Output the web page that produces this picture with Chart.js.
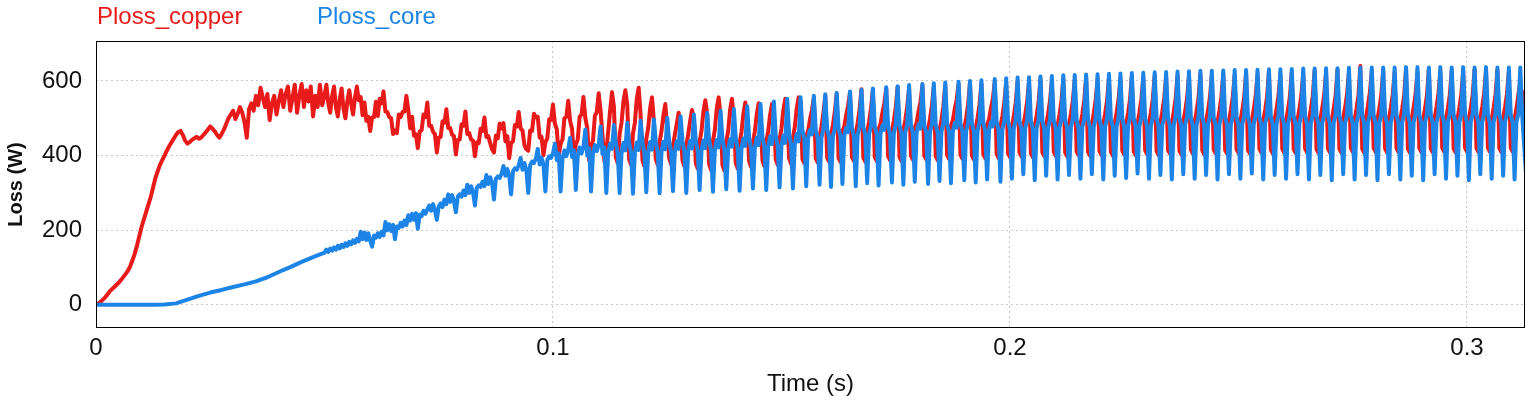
<!DOCTYPE html>
<html>
<head>
<meta charset="utf-8">
<script src="https://cdn.jsdelivr.net/npm/chart.js@4.4.1/dist/chart.umd.min.js"></script>
<style>
  html, body { margin: 0; padding: 0; background: #fff; }
  .can-con { width: 1540px; height: 405px; position: relative; }
</style>
</head>
<body>
<div class="can-con"><canvas id="lossChart" width="1540" height="405"></canvas></div>
<script>
// tick labels
const timeTicks = [0, 0.1, 0.2, 0.3];
const lossTicks = [0, 200, 400, 600];
const seriesNames = ["Ploss_copper", "Ploss_core"];

// sampling of the traces (seconds)
const copperEarlyStep = 0.0005; // copperEarly: t = 0 .. 0.0495
const coreEarlyStep = 0.0025;   // coreEarly:   t = 0 .. 0.0475
const fineStart = 0.05;         // both *Fine arrays start here
const fineStep = 1 / 2400;

const copperEarly = [
  0, 4, 8, 14, 20, 28, 36, 42, 48, 54, 60, 67, 75, 83, 92, 104, 120, 138, 160, 185,
  210, 230, 250, 270, 290, 315, 340, 358, 375, 388, 400, 413, 425, 435, 445, 455, 463, 466, 455, 440,
  432, 436, 442, 446, 450, 445, 448, 455, 462, 470, 478, 472, 465, 455, 448, 458, 470, 485, 500, 510,
  520, 498, 512, 530, 515, 490, 448, 525, 540, 520, 560, 535, 582, 555, 530, 565, 495, 540, 560, 510,
  545, 575, 530, 565, 585, 520, 555, 590, 515, 560, 592, 530, 575, 545, 585, 505, 560, 530, 590, 535
];

const coreEarly = [
  0, 0, 0, 0, 0, 0, 1, 4, 14, 24,
  33, 40, 48, 55, 63, 74, 88, 101, 115, 128
];

const copperFine = [
  // 0.050 - 0.058
  560, 590, 540, 515, 560, 585, 530, 505, 550, 580, 525, 500, 545, 575, 540, 510, 555, 585, 548,
  // 0.058 - 0.101
  557, 508, 542, 493, 504, 466, 502, 503, 544, 506, 552, 540, 572,
  518, 517, 503, 500, 458, 467, 460, 510, 503, 517, 518, 560,
  522, 473, 504, 453, 457, 420, 464, 468, 510, 503, 542,
  480, 480, 464, 457, 408, 448, 450, 492, 488, 524,
  474, 474, 456, 452, 403, 442, 443, 484, 480, 518,
  458, 460, 443, 440, 398, 436, 433, 472, 466, 502,
  450, 452, 434, 417, 408, 454, 446, 486, 473,
  487, 438, 452, 393, 434, 438, 482, 478, 517,
  473, 467, 428, 417, 413, 467, 466, 512, 503,
  504, 448, 450, 401, 436, 446, 497, 496, 537,
  486, 470, 398, 432, 443, 500, 503, 547,
  493, 472, 394, 430, 443, 504, 510, 557,
  500, 474, 388, 424, 440, 507, 516, 567,
  520, 455, 385, 410, 465, 520, 570,
  // 0.101 - 0.154
  530, 395, 380, 458, 488, 545, 575,
  537, 390, 375, 458, 488, 552, 582,
  511, 387, 372, 444, 474, 526, 556,
  493, 390, 375, 436, 466, 508, 538,
  470, 393, 378, 426, 456, 485, 515,
  477, 387, 372, 427, 457, 492, 522,
  503, 380, 365, 436, 466, 518, 548,
  511, 377, 362, 439, 469, 526, 556,
  507, 375, 360, 436, 466, 522, 552,
  497, 380, 365, 433, 463, 512, 542,
  495, 385, 370, 435, 465, 510, 540,
  493, 387, 372, 435, 465, 508, 538,
  507, 390, 375, 443, 473, 522, 552,
  511, 393, 378, 447, 477, 526, 556,
  // 0.154 - 0.199
  545, 390, 380, 452, 467, 497, 522,
  555, 392, 382, 448, 478, 513,
  560, 394, 384, 452, 482, 517,
  565, 393, 383, 464, 479, 509, 534,
  570, 396, 386, 458, 488, 523,
  578, 394, 384, 461, 491, 526,
  575, 396, 386, 470, 485, 515, 540,
  580, 398, 388, 464, 494, 529,
  584, 396, 386, 465, 495, 530,
  580, 399, 389, 474, 489, 519, 544,
  588, 400, 390, 469, 499, 534,
  585, 398, 388, 466, 496, 531,
  590, 401, 391, 480, 495, 525, 550,
  592, 402, 392, 472, 502, 537,
  595, 400, 390, 472, 502, 537,
  592, 403, 393, 482, 497, 527, 552,
  598, 404, 394, 476, 506, 541,
  // 0.199 - 0.3125
  595, 406, 396, 476, 506, 541,
  600, 408, 398, 479, 509, 544,
  598, 406, 396, 477, 507, 542,
  604, 409, 399, 481, 511, 546,
  600, 410, 400, 480, 510, 545,
  606, 408, 398, 482, 512, 547,
  603, 411, 401, 482, 512, 547,
  608, 410, 400, 484, 514, 549,
  605, 412, 402, 483, 513, 548,
  610, 410, 400, 485, 515, 550,
  606, 413, 403, 484, 514, 549,
  612, 411, 401, 486, 516, 551,
  608, 414, 404, 486, 516, 551,
  614, 412, 402, 488, 518, 553,
  610, 415, 405, 487, 517, 552,
  616, 413, 403, 489, 519, 554,
  612, 416, 406, 489, 519, 554,
  618, 414, 404, 491, 521, 556,
  614, 416, 406, 490, 520, 555,
  620, 415, 405, 492, 522, 557,
  615, 417, 407, 491, 521, 556,
  622, 415, 405, 493, 523, 558,
  617, 418, 408, 492, 522, 557,
  625, 416, 406, 495, 525, 560,
  618, 418, 408, 493, 523, 558,
  624, 417, 407, 495, 525, 560,
  620, 419, 409, 494, 524, 559,
  628, 417, 407, 497, 527, 562,
  621, 419, 409, 495, 525, 560,
  630, 418, 408, 499, 529, 564,
  622, 420, 410, 496, 526, 561,
  640, 418, 408, 504, 534, 569,
  624, 420, 410, 497, 527, 562,
  628, 419, 409, 498, 528, 563,
  622, 420, 410, 496, 526, 561,
  630, 418, 408, 499, 529, 564,
  624, 420, 410, 497, 527, 562,
  632, 419, 409, 500, 530, 565,
  625, 421, 411, 498, 528, 563,
  628, 419, 409, 498, 528, 563,
  624, 421, 411, 497, 527, 562,
  630, 420, 410, 500, 530, 565,
  626, 421, 411, 498, 528, 563,
  630, 420, 410, 500, 530, 565,
  624, 421, 411, 497, 527, 562,
  600, 520, 568, 575
];

const coreFine = [
  // 0.050 - 0.058
  140, 148, 142, 151, 145, 154, 148, 158, 151, 161, 155, 165, 158, 169, 162, 173, 166, 177, 170,
  // 0.058 - 0.101
  196, 176, 194, 174, 192, 172, 156, 186, 180, 192, 182, 196, 186,
  222, 200, 216, 198, 214, 176, 210, 206, 220, 210, 226, 214,
  240, 226, 244, 228, 246, 204, 242, 238, 252, 244, 256,
  266, 252, 270, 254, 228, 264, 272, 262, 282, 270,
  296, 276, 294, 278, 248, 290, 296, 290, 306, 294,
  322, 300, 318, 302, 266, 314, 320, 316, 330, 318,
  348, 324, 342, 326, 282, 338, 344, 340, 352,
  372, 346, 364, 346, 296, 358, 366, 362, 374,
  394, 362, 380, 362, 300, 374, 384, 380, 392,
  418, 376, 394, 376, 304, 388, 398, 394, 406,
  432, 388, 406, 304, 392, 414, 398, 416,
  448, 396, 414, 308, 398, 422, 406, 424,
  470, 400, 420, 304, 404, 428, 412, 430,
  478, 404, 422, 300, 408, 432, 418,
  // 0.101 - 0.154
  482, 434, 406, 300, 406, 434, 414,
  488, 435, 407, 298, 407, 435, 415,
  493, 436, 408, 302, 408, 436, 416,
  497, 437, 409, 299, 409, 437, 417,
  501, 438, 410, 305, 410, 438, 418,
  505, 439, 411, 300, 411, 439, 419,
  510, 440, 412, 308, 412, 440, 420,
  514, 442, 414, 303, 414, 442, 422,
  520, 444, 416, 310, 416, 444, 424,
  525, 446, 418, 306, 418, 446, 426,
  532, 448, 420, 312, 420, 448, 428,
  538, 451, 423, 308, 423, 451, 431,
  545, 454, 426, 315, 426, 454, 434,
  552, 458, 430, 312, 430, 458, 438,
  // 0.154 - 0.199
  556, 467, 445, 318, 447, 469, 457,
  560, 469, 447, 322, 449, 471,
  564, 471, 449, 316, 451, 473,
  568, 473, 451, 324, 453, 475, 463,
  572, 475, 453, 318, 455, 477,
  576, 477, 455, 326, 457, 479,
  580, 479, 457, 320, 459, 481, 469,
  583, 480, 458, 328, 460, 482,
  586, 481, 459, 322, 461, 483,
  589, 482, 460, 330, 462, 484, 472,
  592, 483, 461, 324, 463, 485,
  594, 484, 462, 332, 464, 486,
  596, 485, 463, 326, 465, 487, 475,
  598, 486, 464, 334, 466, 488,
  600, 487, 465, 328, 467, 489,
  602, 488, 466, 336, 468, 490, 478,
  605, 490, 468, 330, 470, 492,
  // 0.199 - 0.3125
  607, 492, 470, 338, 472, 494,
  609, 493, 471, 350, 473, 495,
  610, 493, 471, 334, 473, 495,
  612, 494, 472, 346, 474, 496,
  613, 495, 473, 336, 475, 497,
  615, 496, 474, 348, 476, 498,
  616, 496, 474, 338, 476, 498,
  617, 497, 475, 350, 477, 499,
  618, 498, 476, 336, 478, 500,
  619, 498, 476, 346, 478, 500,
  620, 499, 477, 340, 479, 501,
  621, 500, 478, 352, 480, 502,
  622, 500, 478, 338, 480, 502,
  623, 501, 479, 348, 481, 503,
  624, 501, 479, 336, 481, 503,
  625, 502, 480, 350, 482, 504,
  626, 502, 480, 338, 482, 504,
  627, 503, 481, 348, 483, 505,
  627, 503, 481, 336, 483, 505,
  628, 503, 481, 350, 483, 505,
  629, 504, 482, 338, 484, 506,
  629, 504, 482, 352, 484, 506,
  630, 505, 483, 336, 485, 507,
  631, 505, 483, 348, 485, 507,
  631, 505, 483, 338, 485, 507,
  632, 506, 484, 350, 486, 508,
  633, 506, 484, 336, 486, 508,
  633, 507, 485, 348, 487, 509,
  634, 507, 485, 334, 487, 509,
  634, 507, 485, 350, 487, 509,
  635, 508, 486, 336, 488, 510,
  635, 508, 486, 348, 488, 510,
  636, 508, 486, 334, 488, 510,
  636, 508, 486, 350, 488, 510,
  636, 509, 487, 336, 489, 511,
  637, 509, 487, 346, 489, 511,
  637, 509, 487, 334, 489, 511,
  636, 509, 487, 350, 489, 511,
  637, 510, 488, 338, 490, 512,
  636, 510, 488, 346, 490, 512,
  637, 510, 488, 334, 490, 512,
  636, 510, 488, 350, 490, 512,
  637, 510, 488, 338, 490, 512,
  636, 510, 488, 346, 490, 512,
  636, 510, 488, 336, 490, 512,
  636, 508, 430, 352
];

const RED = "#e81a1a";
const BLUE = "#1c84e6";

// pair the sample lists with their sample times
const toPoints = (early, earlyStep, fine) => {
  let pts = [];
  early.forEach((v, i) => pts.push({ x: i * earlyStep, y: v }));
  fine.forEach((v, i) => pts.push({ x: fineStart + i * fineStep, y: v }));
  return pts;
};

const fixTicks = (list) => (scale) => {
  scale.ticks = list.map((v) => ({ value: v }));
};

const framePlugin = {
  id: "frame",
  afterDraw(chart) {
    const { ctx, chartArea } = chart;
    ctx.save();
    ctx.strokeStyle = "#000";
    ctx.lineWidth = 1;
    ctx.strokeRect(
      Math.round(chartArea.left) + 0.5,
      Math.round(chartArea.top) + 0.5,
      Math.round(chartArea.right - chartArea.left) - 1,
      Math.round(chartArea.bottom - chartArea.top) - 1
    );
    // series names above the plot
    ctx.font = "24px 'Liberation Sans', Arial, sans-serif";
    ctx.textBaseline = "alphabetic";
    ctx.fillStyle = RED;
    ctx.fillText(seriesNames[0], 97, 24);
    ctx.fillStyle = BLUE;
    ctx.fillText(seriesNames[1], 317, 24);
    ctx.restore();
  },
};

let ctx = document.getElementById("lossChart");

var config = {
  type: "line",
  data: {
    datasets: [
      {
        label: seriesNames[0],
        data: toPoints(copperEarly, copperEarlyStep, copperFine),
        borderColor: RED,
        borderWidth: 4,
        order: 1,
      },
      {
        label: seriesNames[1],
        data: toPoints(coreEarly, coreEarlyStep, coreFine),
        borderColor: BLUE,
        borderWidth: 4,
        order: 0,
      },
    ],
  },
  options: {
    responsive: false,
    animation: false,
    events: [],
    elements: {
      point: { radius: 0 },
      line: { tension: 0, borderJoinStyle: "round", borderCapStyle: "round" },
    },
    layout: { padding: { top: 41, right: 15, left: 0, bottom: 0 } },
    scales: {
      x: {
        type: "linear",
        min: 0,
        max: 0.3127,
        afterBuildTicks: fixTicks(timeTicks),
        afterFit: (scale) => { scale.height = 77; },
        grid: { color: "#c8c8c8", lineWidth: 1, drawTicks: false },
        border: { display: false, dash: [2, 3] },
        ticks: {
          padding: 6,
          maxRotation: 0,
          color: "#111",
          font: { family: "'Liberation Sans', Arial, sans-serif", size: 24 },
          callback: (v) => String(+v.toFixed(1)),
        },
        title: {
          display: true,
          text: "Time (s)",
          color: "#111",
          padding: { top: 0, bottom: 6 },
          font: { family: "'Liberation Sans', Arial, sans-serif", size: 24 },
        },
      },
      y: {
        type: "linear",
        min: -62,
        max: 707,
        afterBuildTicks: fixTicks(lossTicks),
        afterFit: (scale) => { scale.width = 96; },
        grid: { color: "#c8c8c8", lineWidth: 1, drawTicks: false },
        border: { display: false, dash: [2, 3] },
        ticks: {
          padding: 14,
          color: "#111",
          font: { family: "'Liberation Sans', Arial, sans-serif", size: 24 },
          callback: (v) => String(v),
        },
        title: {
          display: true,
          text: "Loss (W)",
          color: "#111",
          padding: { top: 4, bottom: 0 },
          font: { family: "'Liberation Sans', Arial, sans-serif", size: 20, weight: "bold" },
        },
      },
    },
    plugins: {
      legend: { display: false },
      tooltip: { enabled: false },
    },
  },
  plugins: [framePlugin],
};

const lossChart = new Chart(ctx, config);
</script>
</body>
</html>
